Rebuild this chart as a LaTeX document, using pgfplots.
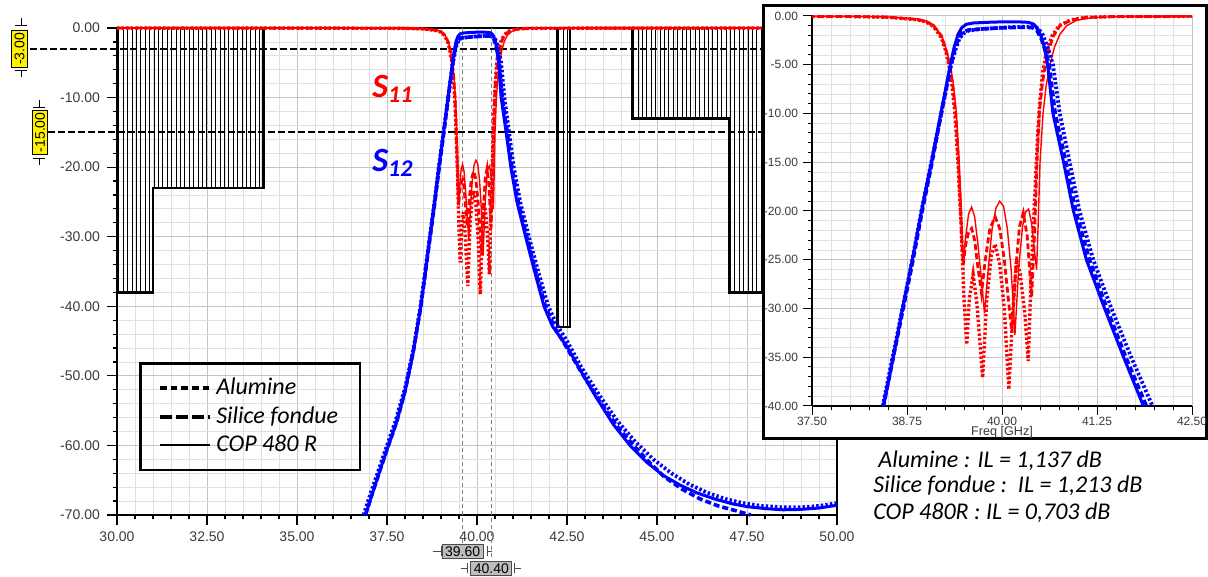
\documentclass[border=0pt]{standalone}
\usepackage{pgfplots}
\pgfplotsset{compat=1.18}
\usepackage{pgfplotstable}
\usepackage{fontspec}
\setmainfont{Carlito}
\newfontfamily\arialf{Liberation Sans}
\usetikzlibrary{patterns.meta}

\definecolor{tickgray}{HTML}{3A3A3A}
\definecolor{gridmaj}{HTML}{C4C4C4}
\definecolor{gridmin}{HTML}{E0E0E0}
\definecolor{mkgray}{HTML}{BDBDBD}
\definecolor{myred}{HTML}{FF0000}
\definecolor{myblue}{HTML}{0000FF}

% ---------- S11 ----------
\pgfplotstableread{
f db
30.0 -0.01
36.0 -0.02
38.0 -0.04
38.5 -0.1
38.88 -0.3
39.0 -0.5
39.10 -0.9
39.21 -2.1
39.27 -3.5
39.32 -5.0
39.36 -7.0
39.40 -10.0
39.43 -14.0
39.46 -19.0
39.48 -23.5
39.495 -25.4
39.52 -22.8
39.56 -20.3
39.60 -19.6
39.64 -20.6
39.68 -23.2
39.72 -26.3
39.77 -30.5
39.82 -25.8
39.87 -21.8
39.92 -19.7
39.97 -19.0
40.02 -19.5
40.07 -21.8
40.12 -26.0
40.17 -32.7
40.22 -25.8
40.27 -21.6
40.31 -20.1
40.35 -19.8
40.39 -21.3
40.43 -24.3
40.455 -26.0
40.475 -21.5
40.50 -15.0
40.54 -10.0
40.58 -7.2
40.63 -5.0
40.69 -3.2
40.76 -1.9
40.85 -1.0
40.98 -0.45
41.2 -0.15
41.6 -0.05
43.0 -0.02
50.0 -0.01
}\sOneCop

\pgfplotstableread{
f db
30.0 -0.01
36.0 -0.02
38.0 -0.05
38.5 -0.12
38.88 -0.35
39.0 -0.55
39.10 -1.0
39.20 -2.0
39.26 -3.4
39.31 -5.0
39.35 -7.0
39.39 -10.0
39.42 -14.0
39.45 -19.0
39.47 -23.0
39.49 -25.5
39.52 -23.5
39.56 -22.2
39.60 -21.8
39.64 -23.0
39.68 -25.6
39.73 -28.4
39.78 -25.0
39.84 -21.8
39.91 -20.6
39.97 -21.8
40.03 -25.0
40.08 -28.8
40.13 -32.5
40.18 -26.0
40.23 -21.6
40.28 -20.2
40.33 -22.5
40.39 -28.8
40.43 -22.0
40.46 -15.0
40.49 -10.0
40.53 -7.0
40.57 -5.0
40.62 -3.3
40.68 -2.0
40.76 -1.0
40.9 -0.45
41.1 -0.15
41.5 -0.05
43.0 -0.02
50.0 -0.01
}\sOneSil

\pgfplotstableread{
f db
30.0 -0.01
36.0 -0.02
38.0 -0.05
38.5 -0.13
38.88 -0.38
39.0 -0.6
39.10 -1.1
39.20 -2.2
39.26 -3.6
39.30 -5.0
39.34 -7.0
39.38 -10.0
39.42 -15.0
39.46 -21.0
39.50 -29.0
39.535 -33.7
39.57 -29.0
39.62 -26.5
39.67 -29.5
39.745 -37.1
39.80 -29.0
39.86 -24.5
39.91 -23.4
39.97 -25.5
40.03 -30.0
40.09 -38.3
40.14 -30.5
40.19 -25.0
40.24 -26.5
40.30 -30.5
40.345 -35.4
40.38 -27.5
40.41 -22.0
40.44 -17.0
40.47 -12.0
40.50 -8.5
40.54 -5.5
40.59 -3.5
40.66 -2.0
40.75 -1.0
40.9 -0.4
41.1 -0.15
41.5 -0.05
43.0 -0.02
50.0 -0.01
}\sOneAlu

% ---------- S21 ----------
\pgfplotstableread{
f db
36.9 -70
37.1 -66.8
37.31 -63.5
37.5 -60.6
37.77 -56.6
38.0 -52.3
38.23 -46.6
38.44 -40.0
38.57 -35.0
38.69 -30.0
38.82 -25.0
38.94 -20.0
39.07 -15.0
39.195 -10.0
39.32 -5.0
39.37 -3.2
39.42 -1.9
39.47 -1.2
39.53 -0.85
39.62 -0.72
39.8 -0.65
40.0 -0.6
40.2 -0.6
40.35 -0.65
40.42 -0.85
40.47 -1.3
40.52 -2.2
40.56 -3.3
40.60 -5.0
40.67 -10.0
40.81 -15.0
40.94 -20.0
41.11 -25.0
41.35 -30.0
41.60 -35.0
41.86 -40.0
42.1 -42.9
42.5 -45.8
42.86 -49.1
43.3 -53.0
43.79 -57.0
44.25 -60.0
44.71 -62.4
45.17 -64.3
45.64 -65.7
46.1 -66.8
46.6 -67.7
47.1 -68.4
47.5 -68.8
48.05 -69.1
48.5 -69.25
48.97 -69.2
49.5 -69.0
50.0 -68.6
}\sTwoCop

\pgfplotstableread{
f db
36.9 -70
37.1 -66.8
37.31 -63.5
37.5 -60.6
37.77 -56.6
38.0 -52.2
38.23 -46.5
38.44 -40.0
38.57 -35.0
38.70 -30.0
38.83 -25.0
38.95 -20.0
39.08 -15.0
39.20 -10.0
39.33 -5.0
39.38 -3.4
39.43 -2.2
39.48 -1.7
39.55 -1.45
39.7 -1.35
39.9 -1.25
40.1 -1.2
40.3 -1.15
40.40 -1.2
40.46 -1.5
40.52 -2.4
40.57 -3.6
40.62 -5.0
40.70 -10.0
40.84 -15.0
40.97 -20.0
41.15 -25.0
41.38 -30.0
41.63 -35.0
41.90 -40.0
42.15 -43.0
42.5 -46.0
42.9 -49.5
43.4 -53.6
43.9 -57.3
44.4 -60.3
44.8 -62.5
45.2 -64.5
45.7 -66.3
46.2 -67.7
46.7 -68.7
47.2 -69.4
47.6 -70.0
}\sTwoSil

\pgfplotstableread{
f db
36.85 -70
37.05 -66.8
37.27 -63.5
37.46 -60.6
37.73 -56.6
38.0 -51.8
38.23 -46.3
38.43 -40.0
38.56 -35.0
38.69 -30.0
38.82 -25.0
38.94 -20.0
39.07 -15.0
39.20 -10.0
39.33 -5.0
39.39 -3.4
39.44 -2.3
39.49 -1.8
39.56 -1.5
39.7 -1.35
39.9 -1.25
40.1 -1.15
40.3 -1.1
40.42 -1.1
40.48 -1.3
40.54 -2.0
40.60 -3.2
40.67 -5.0
40.76 -10.0
40.89 -15.0
41.02 -20.0
41.20 -25.0
41.44 -30.0
41.70 -35.0
41.98 -40.0
42.2 -42.5
42.5 -45.0
42.9 -48.8
43.4 -52.8
43.9 -56.5
44.4 -59.5
44.9 -62.0
45.4 -64.0
45.9 -65.6
46.4 -66.8
46.9 -67.7
47.4 -68.3
47.9 -68.7
48.5 -68.9
49.0 -68.9
49.5 -68.7
50.0 -68.3
}\sTwoAlu

% ---------- mask ----------
\pgfplotstableread{
f db
30 0
30 -38
31 -38
31 -23
34.07 -23
34.07 0
}\maskA
\pgfplotstableread{
f db
42.24 0
42.24 -43
42.58 -43
42.58 0
}\maskB
\pgfplotstableread{
f db
44.3 0
44.3 -13
47.0 -13
47.0 -38
50 -38
50 0
}\maskC

\tikzset{
  redDot/.style={myred, line width=1.7pt, dash pattern=on 1.2pt off 1.1pt},
  redDash/.style={myred, line width=1.4pt, dash pattern=on 3pt off 1.5pt},
  redSol/.style={myred, line width=0.7pt},
  bluDot/.style={myblue, line width=1.9pt, dash pattern=on 1.2pt off 1.1pt},
  bluDash/.style={myblue, line width=1.8pt, dash pattern=on 3pt off 1.5pt},
  bluSol/.style={myblue, line width=1.5pt},
  hatch/.style={draw=black, line width=1.2pt, pattern={Lines[angle=90, distance=2.2pt, line width=0.45pt]}},
  ymark/.style={fill=yellow, draw=black, line width=0.5pt, rotate=90, inner xsep=1.2pt, inner ysep=1.5pt, font=\arialf\fontsize{7}{8}\selectfont},
  gmark/.style={fill=mkgray, draw=black!70, line width=0.5pt, inner xsep=1.5pt, inner ysep=1.2pt, font=\arialf\fontsize{7}{8}\selectfont},
  mk/.style={black, line width=0.5pt},
  gk/.style={black!70, line width=0.5pt},
}

\begin{document}
\begin{tikzpicture}
\path[use as bounding box] (0,0) rectangle (604pt,288.5pt);

% ================= MAIN AXIS =================
\begin{axis}[
  at={(58.5pt,31pt)}, anchor=south west,
  scale only axis, width=360pt, height=243.5pt,
  xmin=30, xmax=50, ymin=-70, ymax=0,
  xtick={30,32.5,...,50}, ytick={-70,-60,...,0},
  minor x tick num=4, minor y tick num=4,
  grid=both,
  major grid style={gridmaj, line width=0.5pt},
  minor grid style={gridmin, line width=0.4pt},
  tick align=outside, xtick pos=left, ytick pos=left,
  major tick length=5pt, minor tick length=2.2pt,
  tick style={black, line width=0.6pt},
  axis line style={black, line width=0.8pt},
  tick label style={font=\arialf\fontsize{7}{8}\selectfont, text=tickgray},
  /pgf/number format/fixed, /pgf/number format/fixed zerofill,
  /pgf/number format/precision=2, /pgf/number format/assume math mode=true,
  clip=false,
  legend cell align=left,
  legend image code/.code={\draw[#1] (0pt,0pt) -- (21.5pt,0pt); \path (0pt,0pt) -- (25pt,0pt);},
  legend style={at={(axis cs:30.61,-48)}, anchor=north west, draw=black,
    line width=1.3pt, fill=none, font=\fontsize{12}{13}\selectfont\itshape,
    inner xsep=9pt, inner ysep=5.5pt, row sep=0.5pt},
]
\addlegendimage{black, line width=2pt, dash pattern=on 3.3pt off 2pt}
\addlegendentry{Alumine}
\addlegendimage{black, line width=2pt, dash pattern=on 6pt off 2pt}
\addlegendentry{Silice fondue}
\addlegendimage{black, line width=0.8pt}
\addlegendentry{COP 480 R}

% mask
\addplot[hatch, forget plot] table[x=f, y=db] {\maskA} -- cycle;
\addplot[hatch, forget plot] table[x=f, y=db] {\maskB} -- cycle;
\addplot[hatch, forget plot] table[x=f, y=db] {\maskC} -- cycle;

% markers (vertical dashed lines)
\draw[gray, line width=0.5pt, dash pattern=on 2pt off 1.5pt] (axis cs:39.6,0) -- ([yshift=-14pt]axis cs:39.6,-70);
\draw[gray, line width=0.5pt, dash pattern=on 2pt off 1.5pt] (axis cs:40.4,0) -- ([yshift=-22.5pt]axis cs:40.4,-70);

% horizontal dashed lines
\draw[black, line width=1pt, dash pattern=on 3.3pt off 1.7pt] ([xshift=-43.5pt]axis cs:30,-3) -- (axis cs:50,-3);
\draw[black, line width=1pt, dash pattern=on 3.3pt off 1.7pt] ([xshift=-34.5pt]axis cs:30,-15) -- (axis cs:50,-15);

% S11
\addplot[redDot, forget plot] table[x=f, y=db] {\sOneAlu};
\addplot[redDash, forget plot] table[x=f, y=db] {\sOneSil};
\addplot[redSol, forget plot] table[x=f, y=db] {\sOneCop};
% S21
\addplot[bluDot, forget plot] table[x=f, y=db] {\sTwoAlu};
\addplot[bluDash, forget plot] table[x=f, y=db] {\sTwoSil};
\addplot[bluSol, forget plot] table[x=f, y=db] {\sTwoCop};

\coordinate (L3) at (axis cs:30,-3);
\coordinate (L15) at (axis cs:30,-15);
\coordinate (F1) at (axis cs:39.6,-70);
\coordinate (F2) at (axis cs:40.4,-70);
\end{axis}

% yellow level markers
\node[ymark] at ([xshift=-48.75pt]L3) {-3.00};
\draw[mk] ([xshift=-51pt, yshift=11.75pt]L3) -- ++(6pt,0) ++(-3pt,0) -- ++(0,3.5pt);
\draw[mk] ([xshift=-51pt, yshift=-10.75pt]L3) -- ++(6pt,0) ++(-3pt,0) -- ++(0,-3.5pt);
\node[ymark] at ([xshift=-38.5pt]L15) {-15.00};
\draw[mk] ([xshift=-42pt, yshift=12.25pt]L15) -- ++(6pt,0) ++(-3pt,0) -- ++(0,4pt);
\draw[mk] ([xshift=-42pt, yshift=-13.25pt]L15) -- ++(6pt,0) ++(-3pt,0) -- ++(0,-3pt);

% gray frequency markers
\node[gmark] at ([yshift=-18.25pt]F1) {39.60};
\draw[gk] ([xshift=-15pt, yshift=-18.25pt]F1) -- ++(4.5pt,0) ++(0,-2.5pt) -- ++(0,5pt);
\draw[gk] ([xshift=12.5pt, yshift=-20.75pt]F1) -- ++(0,5pt) ++(0,-2.5pt) -- ++(2.2pt,0);
\node[gmark] at ([yshift=-26.75pt]F2) {40.40};
\draw[gk] ([xshift=-15pt, yshift=-26.75pt]F2) -- ++(3pt,0) ++(0,-2.5pt) -- ++(0,5pt);
\draw[gk] ([xshift=11.5pt, yshift=-29.25pt]F2) -- ++(0,5pt) ++(0,-2.5pt) -- ++(3.3pt,0);

% S labels
\node[anchor=base west, text=myred, font=\fontsize{17}{17}\selectfont\bfseries\itshape, inner sep=0pt] at (186pt,239.5pt) {S\raisebox{-2.5pt}{\fontsize{12}{12}\selectfont 11}};
\node[anchor=base west, text=myblue, font=\fontsize{17}{17}\selectfont\bfseries\itshape, inner sep=0pt] at (186pt,202.5pt) {S\raisebox{-2.5pt}{\fontsize{12}{12}\selectfont 12}};

% ================= INSET =================
\draw[black, line width=1.5pt, fill=white] (381.5pt,69pt) rectangle (603pt,285.5pt);
\begin{axis}[
  at={(406pt,85.5pt)}, anchor=south west,
  scale only axis, width=190pt, height=195pt,
  xmin=37.5, xmax=42.5, ymin=-40, ymax=0,
  xtick={37.5,38.75,...,42.5}, ytick={-40,-35,...,0},
  minor x tick num=4, minor y tick num=4,
  grid=both,
  major grid style={gridmaj, line width=0.5pt},
  minor grid style={gridmin, line width=0.4pt},
  axis x line*=bottom, axis y line*=left,
  axis line style={-, black, line width=0.7pt},
  tick align=outside, xtick pos=left, ytick pos=left,
  major tick length=4.5pt, minor tick length=2.2pt,
  tick style={black, line width=0.5pt},
  tick label style={font=\arialf\fontsize{6}{7}\selectfont, text=tickgray},
  xticklabel style={yshift=2.5pt},
  yticklabel style={xshift=1pt},
  xlabel={Freq [GHz]},
  xlabel style={font=\arialf\fontsize{6.3}{7}\selectfont, text=tickgray, at={(0.5,0)}, anchor=base, yshift=-15pt},
  /pgf/number format/fixed, /pgf/number format/fixed zerofill,
  /pgf/number format/precision=2, /pgf/number format/assume math mode=true,
]
\addplot[redDot] table[x=f, y=db] {\sOneAlu};
\addplot[redDash] table[x=f, y=db] {\sOneSil};
\addplot[redSol] table[x=f, y=db] {\sOneCop};
\addplot[bluDot] table[x=f, y=db] {\sTwoAlu};
\addplot[bluDash] table[x=f, y=db] {\sTwoSil};
\addplot[bluSol] table[x=f, y=db] {\sTwoCop};
\end{axis}

% IL text
\node[anchor=base west, inner sep=0pt, font=\fontsize{12}{13}\selectfont\itshape] at (439pt,54.5pt) {Alumine : IL = 1,137 dB};
\node[anchor=base west, inner sep=0pt, font=\fontsize{12}{13}\selectfont\itshape] at (436.5pt,42pt) {Silice fondue :\ \ IL = 1,213 dB};
\node[anchor=base west, inner sep=0pt, font=\fontsize{12}{13}\selectfont\itshape] at (436.5pt,28.5pt) {COP 480R : IL = 0,703 dB};
\end{tikzpicture}
\end{document}
